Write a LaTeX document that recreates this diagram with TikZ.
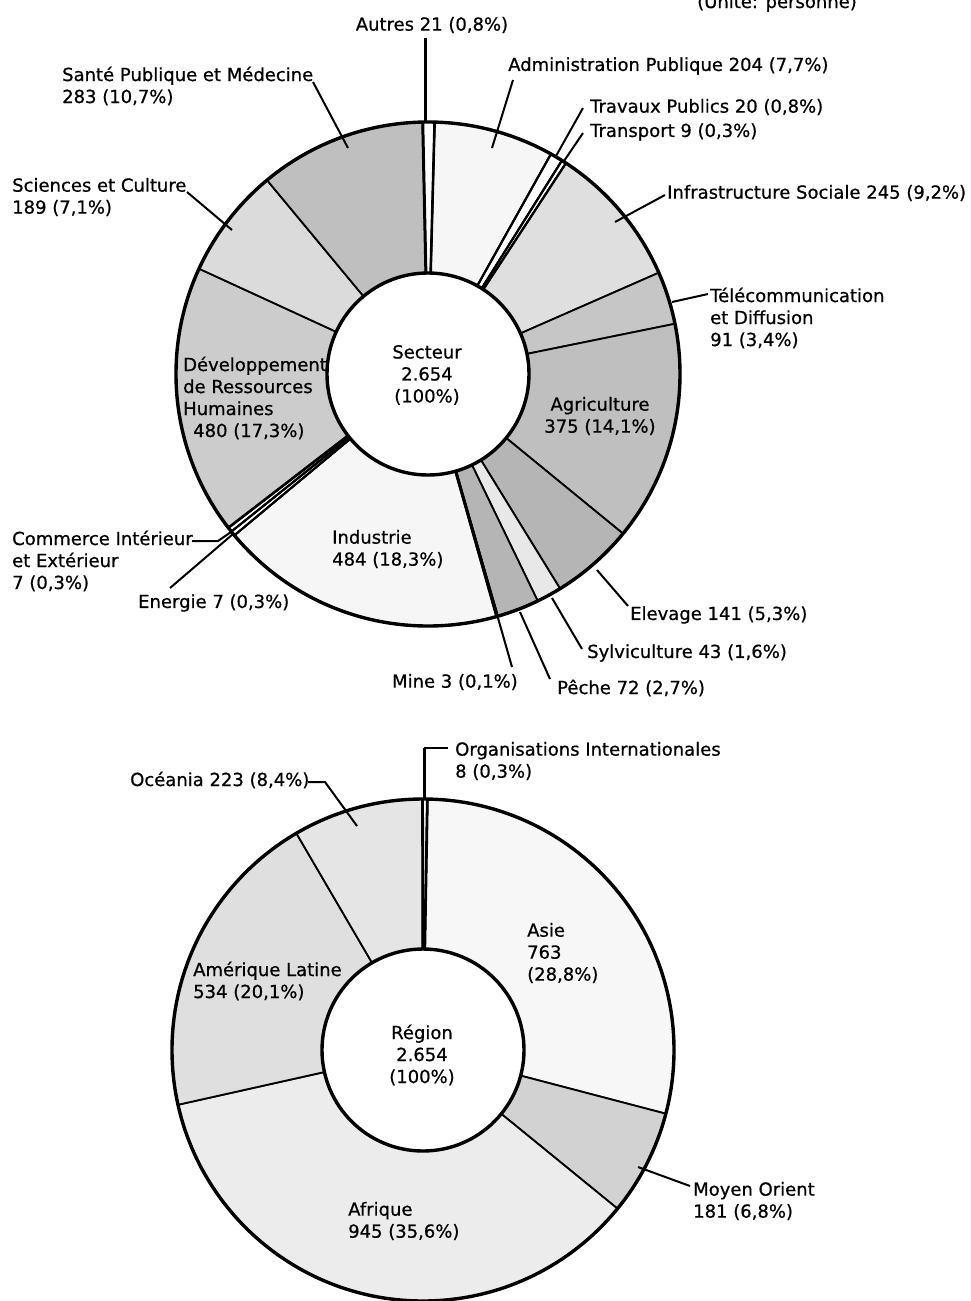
\documentclass[tikz,border=0pt]{standalone}
\usepackage{fontspec}
\setmainfont{DejaVu Sans}
\newfontfamily\lblfont{DejaVu Sans}[FakeBold=0.7]
\usetikzlibrary{calc}
\newcommand{\rsl}[5]{% center, start bearing, end bearing, fill, outer radius
  \path[slc,fill=#4] ($(#1)+(#2-90:#5)$) arc[start angle=#2-90,end angle=#3-90,radius=#5]
    -- ($(#1)+(#3-90:101)$) arc[start angle=#3-90,end angle=#2-90,radius=101] -- cycle;}
\newcommand{\rad}[4]{% center, bearing, outer radius, width
  \draw[line width=#4] ($(#1)+(#2-90:101)$) -- ($(#1)+(#2-90:#3)$);}
\begin{document}
\begin{tikzpicture}[x=1pt,y=-1pt,
  lbl/.style={inner sep=0pt,font=\lblfont\fontsize{18}{22}\selectfont,text=black},
  ldr/.style={draw=black,line width=2pt},
  slc/.style={draw=black,line width=1.8pt},
  ring/.style={draw=black,line width=3.4pt}]
\useasboundingbox[fill=white] (0,0) rectangle (971,1301);
\coordinate (C1) at (428,374);
\coordinate (C2) at (423,1050);
% ---------- top ring ----------
\rsl{C1}{1.5}{29.2}{gray!7}{252}
\rsl{C1}{29.2}{32.1}{white}{252}
\rsl{C1}{32.1}{33.2}{white}{252}
\rsl{C1}{33.2}{66.3}{gray!25}{252}
\rsl{C1}{66.3}{78.5}{gray!45}{252}
\rsl{C1}{78.5}{129.3}{gray!50}{252}
\rsl{C1}{129.3}{148.4}{gray!58}{252}
\rsl{C1}{148.4}{154.2}{gray!18}{252}
\rsl{C1}{154.2}{163.9}{gray!58}{252}
\rsl{C1}{163.9}{164.3}{black}{252}
\rsl{C1}{164.3}{230.2}{gray!7}{252}
\rsl{C1}{230.2}{231.3}{white}{252}
\rsl{C1}{231.3}{232.4}{white}{252}
\rsl{C1}{232.4}{294.7}{gray!40}{252}
\rsl{C1}{294.7}{320.3}{gray!28}{252}
\rsl{C1}{320.3}{358.8}{gray!50}{252}
\rsl{C1}{358.8}{361.5}{white}{252}
\rad{C1}{358.8}{252}{3pt}
\rad{C1}{1.5}{252}{2.6pt}
\rad{C1}{29.2}{252}{2.2pt}
\rad{C1}{32.1}{252}{2.2pt}
\rad{C1}{33.2}{252}{2.2pt}
\rad{C1}{164.1}{252}{3pt}
\rad{C1}{230.2}{252}{2.2pt}
\rad{C1}{231.3}{252}{2.2pt}
\rad{C1}{232.4}{252}{2.6pt}
\draw[ring] (C1) circle[radius=252];
\draw[ring,fill=white] (C1) circle[radius=101];
% ---------- bottom ring ----------
\rsl{C2}{1}{104.7}{gray!6}{251}
\rsl{C2}{104.7}{129.2}{gray!35}{251}
\rsl{C2}{129.2}{257.4}{gray!15}{251}
\rsl{C2}{257.4}{329.7}{gray!25}{251}
\rsl{C2}{329.7}{359.9}{gray!20}{251}
\rsl{C2}{359.9}{361}{white}{251}
\rad{C2}{359.9}{251}{2.8pt}
\rad{C2}{361}{251}{2.8pt}
\draw[ring] (C2) circle[radius=251];
\draw[ring,fill=white] (C2) circle[radius=101];
% ---------- labels top ----------
\node[lbl,anchor=base west] (lUnite) at (697,8) {(Unité: personne)};
\node[lbl] (lAutres) at (432,25) {Autres 21 (0,8\%)};
\node[lbl,anchor=west,align=left] (lSante) at (62,86) {Santé Publique et Médecine\\283 (10,7\%)};
\node[lbl,anchor=west,align=left] (lSci) at (12,197) {Sciences et Culture\\189 (7,1\%)};
\node[lbl,anchor=west,align=left] (lDev) at (183,398) {Développement\\de Ressources\\Humaines\\\hspace*{10pt}480 (17,3\%)};
\node[lbl,anchor=west,align=left] (lCom) at (12,561) {Commerce Intérieur\\et Extérieur\\7 (0,3\%)};
\node[lbl,anchor=west] (lEner) at (138,603) {Energie 7 (0,3\%)};
\node[lbl,anchor=west,align=left] (lInd) at (332,549) {Industrie\\484 (18,3\%)};
\node[lbl,align=center] (lSect) at (427,375) {Secteur\\2.654\\(100\%)};
\node[lbl,align=center] (lAgri) at (600,416) {Agriculture\\375 (14,1\%)};
\node[lbl,anchor=west] (lAdmin) at (508,66) {Administration Publique 204 (7,7\%)};
\node[lbl,anchor=west] (lTrav) at (590,107) {Travaux Publics 20 (0,8\%)};
\node[lbl,anchor=west] (lTrans) at (590,132) {Transport 9 (0,3\%)};
\node[lbl,anchor=west] (lInfra) at (667,193) {Infrastructure Sociale 245 (9,2\%)};
\node[lbl,anchor=west,align=left] (lTel) at (710,318) {Télécommunication\\et Diffusion\\91 (3,4\%)};
\node[lbl,anchor=west] (lElev) at (630,615) {Elevage 141 (5,3\%)};
\node[lbl,anchor=west] (lSylv) at (587,653) {Sylviculture 43 (1,6\%)};
\node[lbl,anchor=west] (lPeche) at (557,688) {Pêche 72 (2,7\%)};
\node[lbl,anchor=east] (lMine) at (518,682) {Mine 3 (0,1\%)};
% ---------- labels bottom ----------
\node[lbl,anchor=west,align=left] (lOrg) at (455,761) {Organisations Internationales\\8 (0,3\%)};
\node[lbl,anchor=west] (lOce) at (130,780) {Océania 223 (8,4\%)};
\node[lbl,anchor=west,align=left] (lAsie) at (527,953) {Asie\\763\\(28,8\%)};
\node[lbl,anchor=west,align=left] (lAmer) at (193,981) {Amérique Latine\\534 (20,1\%)};
\node[lbl,align=center] (lReg) at (422,1055) {Région\\2.654\\(100\%)};
\node[lbl,anchor=west,align=left] (lAfr) at (348,1221) {Afrique\\945 (35,6\%)};
\node[lbl,anchor=west,align=left] (lMoy) at (693,1201) {Moyen Orient\\181 (6,8\%)};
% ---------- leader coordinates ----------
\coordinate (kAut1) at (425,38);   \coordinate (kAut2) at (425,123);
\coordinate (kAdm1) at (513,80);   \coordinate (kAdm2) at (492,148);
\coordinate (kTrv1) at (583,108);  \coordinate (kTrv2) at (556,156);
\coordinate (kTrn1) at (583,133);  \coordinate (kTrn2) at (564,161);
\coordinate (kInf1) at (665,195);  \coordinate (kInf2) at (615,222);
\coordinate (kTel1) at (708,294);  \coordinate (kTel2) at (672,302);
\coordinate (kElv1) at (628,606);  \coordinate (kElv2) at (597,570);
\coordinate (kSyl1) at (582,649);  \coordinate (kSyl2) at (552,598);
\coordinate (kPec1) at (550,679);  \coordinate (kPec2) at (520,612);
\coordinate (kMin1) at (512,667);  \coordinate (kMin2) at (498,618);
\coordinate (kEne1) at (170,588);  \coordinate (kEne2) at (233,534);
\coordinate (kCom1) at (192,541);  \coordinate (kCom2) at (218,541);  \coordinate (kCom3) at (231,532);
\coordinate (kSan1) at (313,82);   \coordinate (kSan2) at (348,148);
\coordinate (kSci1) at (187,192);  \coordinate (kSci2) at (232,230);
\coordinate (kOrg1) at (448,748);  \coordinate (kOrg2) at (424,748);  \coordinate (kOrg3) at (424,800);
\coordinate (kOce1) at (308,782);  \coordinate (kOce2) at (325,782);  \coordinate (kOce3) at (357,826);
\coordinate (kMoy1) at (690,1186); \coordinate (kMoy2) at (638,1167);
% ---------- leaders ----------
\draw[ldr,line width=3pt] (kAut1) -- (kAut2);
\draw[ldr] (kAdm1) -- (kAdm2);
\draw[ldr] (kTrv1) -- (kTrv2);
\draw[ldr] (kTrn1) -- (kTrn2);
\draw[ldr] (kInf1) -- (kInf2);
\draw[ldr] (kTel1) -- (kTel2);
\draw[ldr] (kElv1) -- (kElv2);
\draw[ldr] (kSyl1) -- (kSyl2);
\draw[ldr] (kPec1) -- (kPec2);
\draw[ldr] (kMin1) -- (kMin2);
\draw[ldr] (kEne1) -- (kEne2);
\draw[ldr] (kCom1) -- (kCom2) -- (kCom3);
\draw[ldr] (kSan1) -- (kSan2);
\draw[ldr] (kSci1) -- (kSci2);
\draw[ldr] (kOrg1) -- (kOrg2);
\draw[ldr,line width=3pt] (kOrg2) -- (kOrg3);
\draw[ldr] (kOce1) -- (kOce2) -- (kOce3);
\draw[ldr] (kMoy1) -- (kMoy2);
\end{tikzpicture}
\end{document}
